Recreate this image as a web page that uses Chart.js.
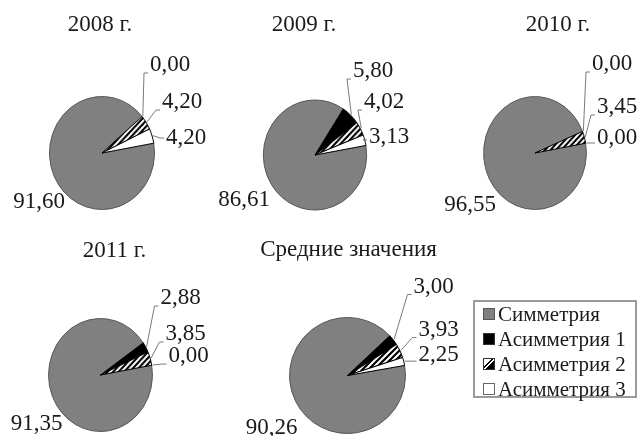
<!DOCTYPE html>
<html><head><meta charset="utf-8">
<script src="https://cdn.jsdelivr.net/npm/chart.js@4/dist/chart.umd.min.js"></script>
<style>
html,body{margin:0;padding:0;background:#fff;}
#wrap{position:relative;width:638px;height:436px;overflow:hidden;background:#fff;}
canvas.pie{position:absolute;left:0;top:0;}
#legend{position:absolute;left:473px;top:300px;width:160px;height:94px;border:2px solid #9a9a9a;font-family:"Liberation Serif",serif;font-size:21px;color:#1a1a1a;}
.item{position:absolute;left:8px;height:24px;line-height:24px;white-space:nowrap;}
.mk{display:inline-block;width:10px;height:10px;border:1px solid #333;vertical-align:middle;margin-right:3px;position:relative;top:-2px;box-sizing:content-box;}
</style></head>
<body><div id="wrap"><div id="legend"></div></div>
<script>
// ---- data ----
const categories = ['Симметрия', 'Асимметрия 1', 'Асимметрия 2', 'Асимметрия 3'];
const chartTitles = ['2008 г.', '2009 г.', '2010 г.', '2011 г.', 'Средние значения'];
const values2008 = [91.60, 0.00, 4.20, 4.20];
const values2009 = [86.61, 5.80, 4.02, 3.13];
const values2010 = [96.55, 0.00, 3.45, 0.00];
const values2011 = [91.35, 2.88, 3.85, 0.00];
const valuesAvg  = [90.26, 3.00, 3.93, 2.25];
const seriesList = [values2008, values2009, values2010, values2011, valuesAvg];

// ---- layout (pie centre/radius, horizontal squeeze, label offsets relative to centre) ----
const layouts = [
  {cx:102,   cy:153,   r:57,   sx:0.93, dx:[48,60,64], dy:[-88,-51,-15], bdx:-37, bdy:49, tdx:-2,  tdy:-128},
  {cx:315,   cy:155,   r:55.5, sx:0.94, dx:[38,49,54], dy:[-84,-53,-18], bdx:-45, bdy:45, tdx:-11, tdy:-130},
  {cx:535,   cy:153,   r:57,   sx:0.91, dx:[57,62,62], dy:[-89,-46,-15], bdx:-39, bdy:52, tdx:23,  tdy:-128},
  {cx:100.5, cy:375,   r:57,   sx:0.92, dx:[60,65,68], dy:[-77,-41,-19], bdx:-38, bdy:49, tdx:14,  tdy:-124},
  {cx:347.5, cy:375.5, r:58.5, sx:1.00, dx:[66,71,71], dy:[-89,-46,-21], bdx:-50, bdy:52, tdx:1,   tdy:-126}
];
const W = 638, H = 436;

function hatch(){
  const c = document.createElement('canvas'); c.width = 6; c.height = 6;
  const g = c.getContext('2d');
  g.fillStyle = '#fff'; g.fillRect(0,0,6,6);
  g.strokeStyle = '#000'; g.lineWidth = 2.2;
  g.beginPath();
  g.moveTo(-1,7); g.lineTo(7,-1);
  g.moveTo(-4,4); g.lineTo(4,-4);
  g.moveTo(2,10); g.lineTo(10,2);
  g.stroke();
  return document.createElement('canvas').getContext('2d').createPattern(c,'repeat');
}
const fills = ['#808080', '#000000', hatch(), '#ffffff'];
const borders = ['#555555', '#000000', '#000000', '#000000'];

const fmt = v => v.toFixed(2).replace('.', ',');

const labelPlugin = {
  id: 'pieLabels',
  beforeDatasetsDraw(chart, args, opts){
    const a = chart.getDatasetMeta(0).data[0];
    const ctx = chart.ctx;
    ctx.save();
    ctx.translate(a.x, 0); ctx.scale(opts.L.sx, 1); ctx.translate(-a.x, 0);
  },
  afterDatasetsDraw(chart){
    chart.ctx.restore();
  },
  afterDraw(chart, args, opts){
    const ctx = chart.ctx;
    const arcs = chart.getDatasetMeta(0).data;
    const vals = chart.data.datasets[0].data;
    const cx = arcs[0].x, cy = arcs[0].y, R = arcs[0].outerRadius;
    const L = opts.L;
    ctx.save();
    ctx.font = '23px "Liberation Serif"';
    ctx.fillStyle = '#1a1a1a';
    ctx.textBaseline = 'middle';
    ctx.textAlign = 'center';
    ctx.fillText(opts.title, cx + L.tdx, cy + L.tdy);
    ctx.textAlign = 'right';
    ctx.fillText(fmt(vals[0]), cx + L.bdx, cy + L.bdy);
    ctx.textAlign = 'left';
    for (let i = 1; i < arcs.length; i++){
      const a = arcs[i];
      const mid = (a.startAngle + a.endAngle) / 2;
      const px = cx + Math.cos(mid) * (R + 1) * L.sx, py = cy + Math.sin(mid) * (R + 1);
      const lx = cx + L.dx[i-1], ly = cy + L.dy[i-1];
      const ey = ly + Math.min(8, Math.max(0, py - ly));
      ctx.strokeStyle = '#7a7a7a'; ctx.lineWidth = 1;
      ctx.beginPath(); ctx.moveTo(px, py); ctx.lineTo(lx - 6, ey); ctx.lineTo(lx - 2, ey); ctx.stroke();
      ctx.fillText(fmt(vals[i]), lx, ly);
    }
    ctx.restore();
  }
};

const wrap = document.getElementById('wrap');
seriesList.forEach((vals, idx) => {
  const L = layouts[idx];
  const cv = document.createElement('canvas');
  cv.width = W; cv.height = H; cv.className = 'pie';
  wrap.insertBefore(cv, document.getElementById('legend'));
  new Chart(cv, {
    type: 'pie',
    data: { labels: categories, datasets: [{ data: vals, backgroundColor: fills, borderColor: borders, borderWidth: 1 }] },
    options: {
      responsive: false, animation: false, rotation: 80,
      layout: { padding: { left: L.cx - L.r, top: L.cy - L.r, right: W - L.cx - L.r, bottom: H - L.cy - L.r } },
      plugins: { legend: { display: false }, tooltip: { enabled: false }, pieLabels: { L: L, title: chartTitles[idx] } }
    },
    plugins: [labelPlugin]
  });
});

// legend (HTML, from categories and slice styles)
const legend = document.getElementById('legend');
const mkStyles = [
  'background:#808080;border-color:#555;',
  'background:#000;',
  'background:linear-gradient(135deg,#fff 0 40%,#000 40% 50%,#fff 50% 58%,#000 58% 100%);',
  'background:#fff;border-color:#666;'
];
categories.forEach((c, i) => {
  const d = document.createElement('div');
  d.className = 'item'; d.style.top = (i * 25) + 'px';
  d.innerHTML = '<span class="mk" style="' + mkStyles[i] + '"></span>' + c;
  legend.appendChild(d);
});
</script></body></html>
